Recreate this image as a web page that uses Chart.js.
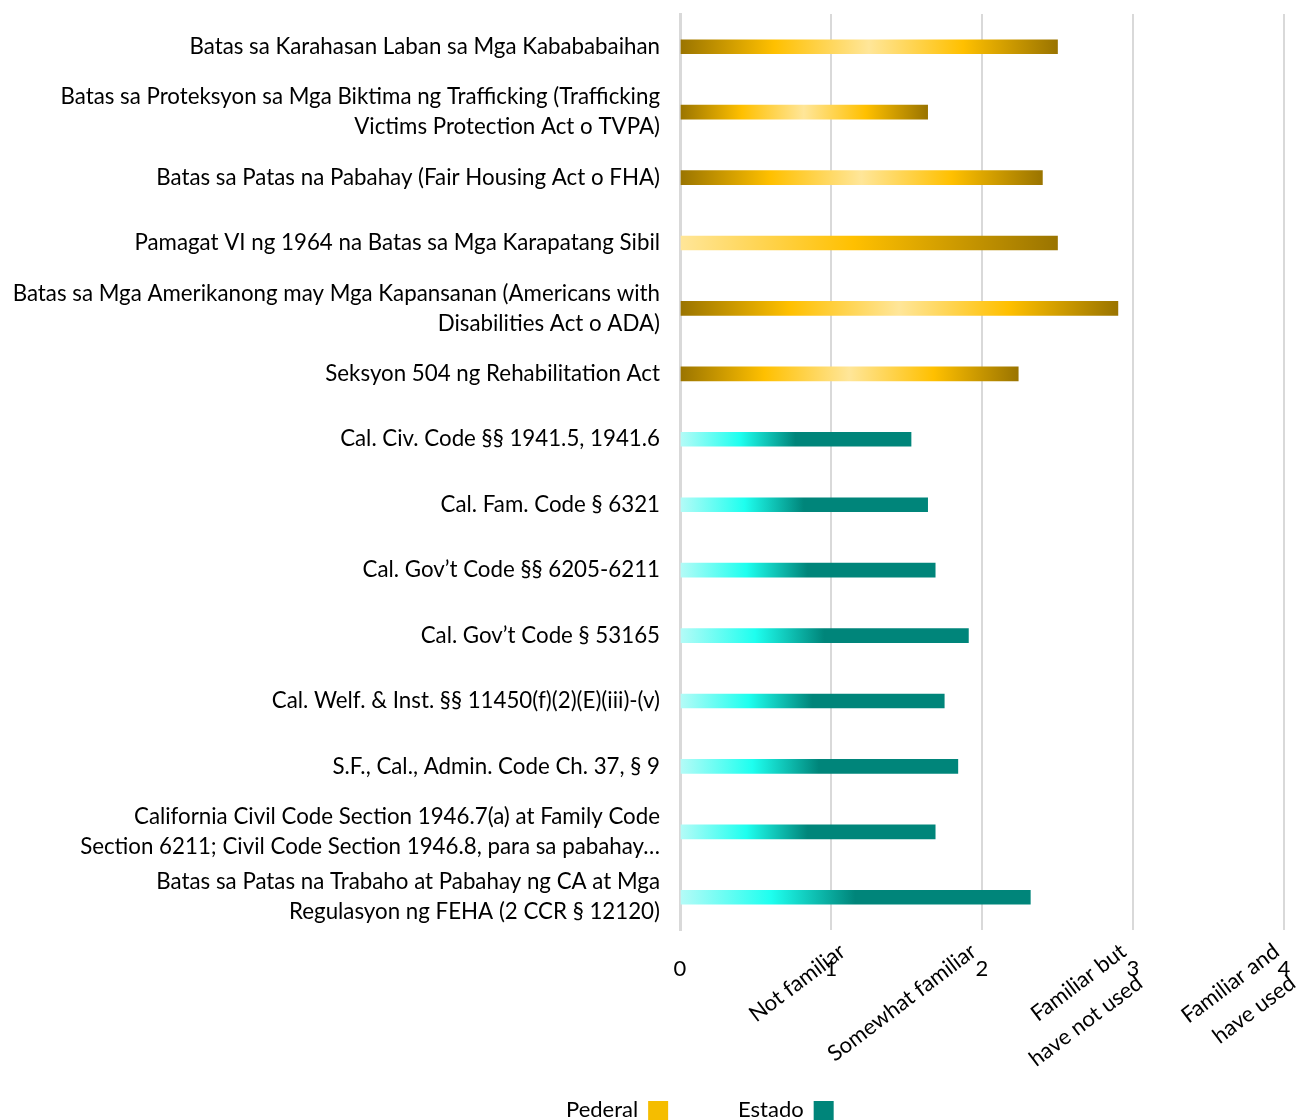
<!DOCTYPE html>
<html>
<head>
<meta charset="utf-8">
<script src="https://cdn.jsdelivr.net/npm/chart.js@4.4.0/dist/chart.umd.min.js"></script>
<style>
    html, body { margin: 0; padding: 0; background: #fff; }
    #wrap { width: 1299px; height: 1120px; position: relative; }
</style>
</head>
<body>
<div id="wrap"><canvas id="Familiarity"></canvas></div>
<script>
// federal laws
const pederalLabels = [
    'Batas sa Karahasan Laban sa Mga Kabababaihan',
    ['Batas sa Proteksyon sa Mga Biktima ng Trafficking (Trafficking', 'Victims Protection Act o TVPA)'],
    'Batas sa Patas na Pabahay (Fair Housing Act o FHA)',
    'Pamagat VI ng 1964 na Batas sa Mga Karapatang Sibil',
    ['Batas sa Mga Amerikanong may Mga Kapansanan (Americans with', 'Disabilities Act o ADA)'],
    'Seksyon 504 ng Rehabilitation Act'
];
const pederalValues = [2.50, 1.64, 2.40, 2.50, 2.90, 2.24];

// state laws
const estadoLabels = [
    'Cal. Civ. Code §§ 1941.5, 1941.6',
    'Cal. Fam. Code § 6321',
    'Cal. Gov’t Code §§ 6205-6211',
    'Cal. Gov’t Code § 53165',
    'Cal. Welf. & Inst. §§ 11450(f)(2)(E)(iii)-(v)',
    'S.F., Cal., Admin. Code Ch. 37, § 9',
    ['California Civil Code Section 1946.7(a) at Family Code', 'Section 6211; Civil Code Section 1946.8, para sa pabahay…'],
    ['Batas sa Patas na Trabaho at Pabahay ng CA at Mga', 'Regulasyon ng FEHA (2 CCR § 12120)']
];
const estadoValues = [1.53, 1.64, 1.69, 1.91, 1.75, 1.84, 1.69, 2.32];

const levelLabels = [['Not familiar'], ['Somewhat familiar'], ['Familiar but', 'have not used'], ['Familiar and', 'have used']];
const seriesNames = ['Pederal', 'Estado'];

const FONT = 'Lato';
const goldStops = [[0, '#9a7400'], [0.25, '#ffc000'], [0.5, '#ffe699'], [0.75, '#ffc000'], [1, '#9a7400']];
const goldFadeStops = [[0, '#ffe699'], [0.46, '#ffc000'], [1, '#9a7400']];
const tealStops = [[0, '#b5fbf7'], [0.26, '#1effef'], [0.5, '#00857a'], [1, '#00857a']];
const legendColors = ['#f5bd00', '#00857a'];
const levelShift = [5, -15, -16, -14];
const legendX = [566, 738];

function barGradient(ctx, stops) {
    const chart = ctx.chart;
    if (!chart.chartArea || ctx.raw == null) return stops[stops.length - 1][1];
    const x = chart.scales.x;
    const g = chart.ctx.createLinearGradient(x.getPixelForValue(0), 0, x.getPixelForValue(ctx.raw), 0);
    stops.forEach(s => g.addColorStop(s[0], s[1]));
    return g;
}

const labels = pederalLabels.concat(estadoLabels);
const pederalData = pederalValues.concat(estadoLabels.map(() => null));
const estadoData = pederalLabels.map(() => null).concat(estadoValues);

const extraText = {
    id: 'extraText',
    afterDraw(chart) {
        const c = chart.ctx;
        const x = chart.scales.x;
        c.save();
        c.font = '22px ' + FONT;
        c.fillStyle = '#000';
        levelLabels.forEach((lines, i) => {
            c.save();
            c.translate(x.getPixelForValue(i + 1) + levelShift[i], chart.chartArea.bottom + 10);
            c.rotate(-37 * Math.PI / 180);
            c.textAlign = 'right';
            c.textBaseline = 'top';
            lines.forEach((t, j) => c.fillText(t, -6 * j, 35 * j));
            c.restore();
        });
        // legend, box after the text
        c.textAlign = 'left';
        c.textBaseline = 'middle';
        seriesNames.forEach((name, i) => {
            c.fillStyle = '#000';
            c.fillText(name, legendX[i], 1110);
            const w = c.measureText(name).width;
            c.fillStyle = legendColors[i];
            c.fillRect(legendX[i] + w + 10, 1101, 20, 20);
        });
        c.restore();
    }
};

const myChart = new Chart(document.getElementById('Familiarity'), {
    type: 'bar',
    data: {
        labels: labels,
        datasets: [{
            label: seriesNames[0],
            data: pederalData,
            backgroundColor: ctx => barGradient(ctx, ctx.dataIndex === 3 ? goldFadeStops : goldStops),
            barThickness: 14,
            grouped: false,
            borderWidth: 0
        }, {
            label: seriesNames[1],
            data: estadoData,
            backgroundColor: ctx => barGradient(ctx, tealStops),
            barThickness: 14,
            grouped: false,
            borderWidth: 0
        }]
    },
    options: {
        indexAxis: 'y',
        responsive: true,
        maintainAspectRatio: false,
        animation: false,
        layout: { padding: { top: 14, right: 15, left: 0, bottom: 0 } },
        plugins: {
            legend: { display: false },
            tooltip: { enabled: false }
        },
        scales: {
            x: {
                min: 0,
                max: 4,
                ticks: { stepSize: 1, padding: 26, maxRotation: 0, color: '#000', font: { family: FONT, size: 22 } },
                grid: { color: '#d9d9d9', lineWidth: 2, drawTicks: false },
                border: { display: false },
                afterFit(s) { s.height = 190; s.paddingLeft = 0; s.paddingRight = 0; }
            },
            y: {
                ticks: { padding: 20, autoSkip: false, color: '#000', font: { family: FONT, size: 22.3, lineHeight: 30 / 22.3 } },
                grid: { display: false, drawTicks: false },
                border: { display: true, color: '#d9d9d9', width: 3 },
                afterFit(s) { s.width = 680; s.paddingTop = 0; s.paddingBottom = 0; }
            }
        }
    },
    plugins: [extraText]
});
</script>
</body>
</html>
